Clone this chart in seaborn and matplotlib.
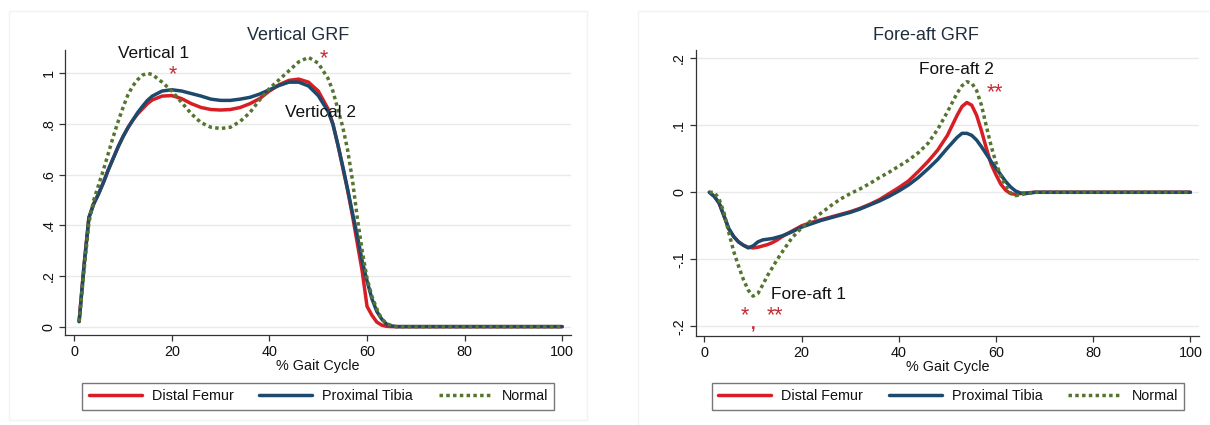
import numpy as np
import pandas as pd
import matplotlib
matplotlib.use("Agg")
import matplotlib.pyplot as plt
import seaborn as sns
from matplotlib.ticker import FuncFormatter
from matplotlib.patches import Rectangle

# % gait cycle sample points (shared by all curves)
pct = [1, 2, 3, 4, 5, 6, 7, 8, 9, 10, 11, 12, 13, 14, 15, 16, 18, 20, 22, 24,
       26, 28, 30, 32, 34, 36, 38, 40, 42, 44, 46, 48, 50, 52, 53, 54, 55, 56,
       57, 58, 59, 60, 61, 62, 63, 64, 65, 66, 68, 70, 100]

# vertical GRF
vert_femur = [0.02, 0.24, 0.43, 0.485, 0.525, 0.57, 0.62, 0.665, 0.71, 0.75, 0.785, 0.815, 0.84, 0.86, 0.88, 0.895, 0.91, 0.912, 0.90, 0.88,
              0.865, 0.857, 0.855, 0.857, 0.865, 0.88, 0.90, 0.93, 0.955, 0.972, 0.977, 0.965, 0.93, 0.86, 0.80, 0.72, 0.63, 0.54,
              0.44, 0.33, 0.22, 0.08, 0.045, 0.018, 0.006, 0.001, 0.0, 0.0, 0.0, 0.0, 0.0]
vert_tibia = [0.02, 0.24, 0.43, 0.485, 0.525, 0.57, 0.62, 0.665, 0.71, 0.75, 0.785, 0.815, 0.845, 0.87, 0.893, 0.91, 0.93, 0.935, 0.93, 0.92,
              0.91, 0.898, 0.893, 0.893, 0.898, 0.905, 0.918, 0.935, 0.952, 0.965, 0.965, 0.95, 0.912, 0.85, 0.80, 0.72, 0.635, 0.545,
              0.45, 0.36, 0.26, 0.18, 0.11, 0.06, 0.03, 0.01, 0.003, 0.0, 0.0, 0.0, 0.0]
vert_normal = [0.02, 0.22, 0.41, 0.50, 0.56, 0.62, 0.685, 0.75, 0.81, 0.865, 0.915, 0.95, 0.975, 0.993, 1.0, 0.995, 0.965, 0.93, 0.885, 0.84,
               0.805, 0.787, 0.782, 0.787, 0.81, 0.845, 0.895, 0.94, 0.975, 1.01, 1.045, 1.063, 1.04, 0.98, 0.93, 0.86, 0.79, 0.70,
               0.58, 0.43, 0.30, 0.19, 0.12, 0.07, 0.03, 0.012, 0.004, 0.0, 0.0, 0.0, 0.0]

# fore-aft GRF
fa_femur = [0.0, -0.006, -0.016, -0.035, -0.055, -0.066, -0.074, -0.079, -0.082, -0.083, -0.082, -0.080, -0.078, -0.075, -0.071, -0.066, -0.058, -0.050, -0.045, -0.041,
            -0.037, -0.033, -0.029, -0.024, -0.018, -0.011, -0.002, 0.007, 0.017, 0.031, 0.046, 0.063, 0.085, 0.115, 0.128, 0.134, 0.13, 0.115,
            0.092, 0.066, 0.042, 0.026, 0.012, 0.003, -0.002, -0.003, -0.002, -0.001, 0.0, 0.0, 0.0]
fa_tibia = [0.0, -0.006, -0.016, -0.035, -0.054, -0.066, -0.074, -0.079, -0.083, -0.080, -0.074, -0.071, -0.070, -0.069, -0.067, -0.065, -0.059, -0.052, -0.047, -0.042,
            -0.038, -0.034, -0.030, -0.025, -0.019, -0.013, -0.006, 0.002, 0.011, 0.022, 0.035, 0.049, 0.066, 0.082, 0.088, 0.088, 0.085, 0.078,
            0.068, 0.057, 0.046, 0.036, 0.026, 0.016, 0.008, 0.002, -0.001, -0.002, 0.0, 0.0, 0.0]
fa_normal = [0.0, 0.0, -0.01, -0.03, -0.06, -0.088, -0.11, -0.13, -0.146, -0.155, -0.151, -0.138, -0.124, -0.112, -0.10, -0.089, -0.068, -0.053, -0.042, -0.031,
             -0.02, -0.01, -0.002, 0.005, 0.013, 0.022, 0.03, 0.039, 0.048, 0.059, 0.073, 0.094, 0.12, 0.148, 0.159, 0.165, 0.163, 0.152,
             0.13, 0.099, 0.069, 0.044, 0.024, 0.009, -0.001, -0.005, -0.004, -0.002, 0.0, 0.0, 0.0]

groups = ["Distal Femur", "Proximal Tibia", "Normal"]
colors = {"Distal Femur": "#d81e24", "Proximal Tibia": "#1d4a6c", "Normal": "#55752f"}

sns.set_style("white")
plt.rcParams["font.family"] = ["Liberation Sans", "DejaVu Sans"]

fig = plt.figure(figsize=(12.1, 4.25), dpi=100)

# faint outer panel frames (Stata graph region)
fig.patches.append(Rectangle((9 / 1210, 5 / 425), 578 / 1210, 409 / 425, transform=fig.transFigure,
                             fill=False, edgecolor="#f3f3f3", lw=1))
fig.patches.append(Rectangle((638 / 1210, -1 / 425), 580 / 1210, 415 / 425, transform=fig.transFigure,
                             fill=False, edgecolor="#f3f3f3", lw=1))

ax1 = fig.add_axes([0.0541, 0.2118, 0.4178, 0.6706])
ax2 = fig.add_axes([0.5750, 0.2094, 0.4160, 0.6730])


def stata_fmt(v, pos):
    if abs(v) < 1e-9:
        return "0"
    s = ("%g" % round(v, 3))
    return s.replace("0.", ".")


def draw(ax, femur, tibia, normal, ylim, yticks):
    df = pd.DataFrame({"pct": pct * 3,
                       "grf": femur + tibia + normal,
                       "group": [groups[0]] * len(pct) + [groups[1]] * len(pct) + [groups[2]] * len(pct)})
    for g in groups:
        sub = df[df["group"] == g]
        sns.lineplot(data=sub, x="pct", y="grf", ax=ax, color=colors[g], lw=2.5, label=g,
                     sort=False, estimator=None)
    lines = ax.get_lines()
    lines[2].set_dashes((1.0, 0.95))
    lines[2].set_dash_capstyle("butt")
    for l in lines[:2]:
        l.set_solid_capstyle("round")
    ax.set_xlim(-1.8, 101.8)
    ax.set_ylim(*ylim)
    ax.set_xticks([0, 20, 40, 60, 80, 100])
    ax.set_yticks(yticks)
    ax.yaxis.set_major_formatter(FuncFormatter(stata_fmt))
    ax.grid(axis="y", color="#e9e9e9", lw=1.0)
    ax.grid(axis="x", visible=False)
    for s in ["top", "right"]:
        ax.spines[s].set_visible(False)
    for s in ["left", "bottom"]:
        ax.spines[s].set_color("#333333")
        ax.spines[s].set_linewidth(0.9)
    ax.tick_params(axis="both", which="major", length=4, width=0.9, color="#333333",
                   labelsize=10.4, labelcolor="#111111", direction="out", bottom=True, left=True)
    ax.tick_params(axis="x", pad=3)
    ax.tick_params(axis="y", labelrotation=90, pad=3)
    for lab in ax.get_yticklabels():
        lab.set_va("center")
    ax.set_xlabel("% Gait Cycle", fontsize=10.4, labelpad=0.5, color="#111111")
    ax.set_ylabel("")
    ax.get_legend().remove()


draw(ax1, vert_femur, vert_tibia, vert_normal, (-0.033, 1.092), [0, 0.2, 0.4, 0.6, 0.8, 1.0])
draw(ax2, fa_femur, fa_tibia, fa_normal, (-0.2145, 0.2124), [-0.2, -0.1, 0, 0.1, 0.2])

# titles
fig.text(298 / 1210, 1 - 36 / 425, "Vertical GRF", ha="center", va="center", fontsize=13, color="#1f2d3d")
fig.text(926 / 1210, 1 - 36 / 425, "Fore-aft GRF", ha="center", va="center", fontsize=13, color="#1f2d3d")

# annotations
ann = dict(ha="center", va="center", fontsize=12.4, color="#111111")
star = dict(ha="center", va="center", fontsize=15.5, color="#c42a34")
ax1.text(16.2, 1.08, "Vertical 1", **ann)
ax1.text(50.5, 0.847, "Vertical 2", **ann)
ax1.text(20.2, 0.996, "*", **star)
ax1.text(51.1, 1.059, "*", **star)
ax2.text(51.9, 0.184, "Fore-aft 2", **ann)
ax2.text(21.4, -0.152, "Fore-aft 1", **ann)
ax2.text(59.8, 0.149, "**", **star)
ax2.text(8.3, -0.184, "*", **star)
ax2.text(14.5, -0.184, "**", **star)
ax2.text(10.1, -0.198, ",", ha="center", va="center", fontsize=12, fontweight="bold", color="#c42a34")

# legends under each panel
for ax, cx in [(ax1, 318.4 / 1210), (ax2, 947.9 / 1210)]:
    h, l = ax.get_legend_handles_labels()
    leg = ax.legend(h, l, loc="center", bbox_to_anchor=(cx, 1 - 396.5 / 425), bbox_transform=fig.transFigure,
                    ncol=3, frameon=True, fancybox=False, edgecolor="#555555", fontsize=10.4,
                    handlelength=3.68, handletextpad=0.69, columnspacing=1.78, borderpad=0.42)
    leg.get_frame().set_linewidth(1.0)
    for t in leg.get_texts():
        t.set_color("#111111")

fig.savefig("out.png", dpi=100)
